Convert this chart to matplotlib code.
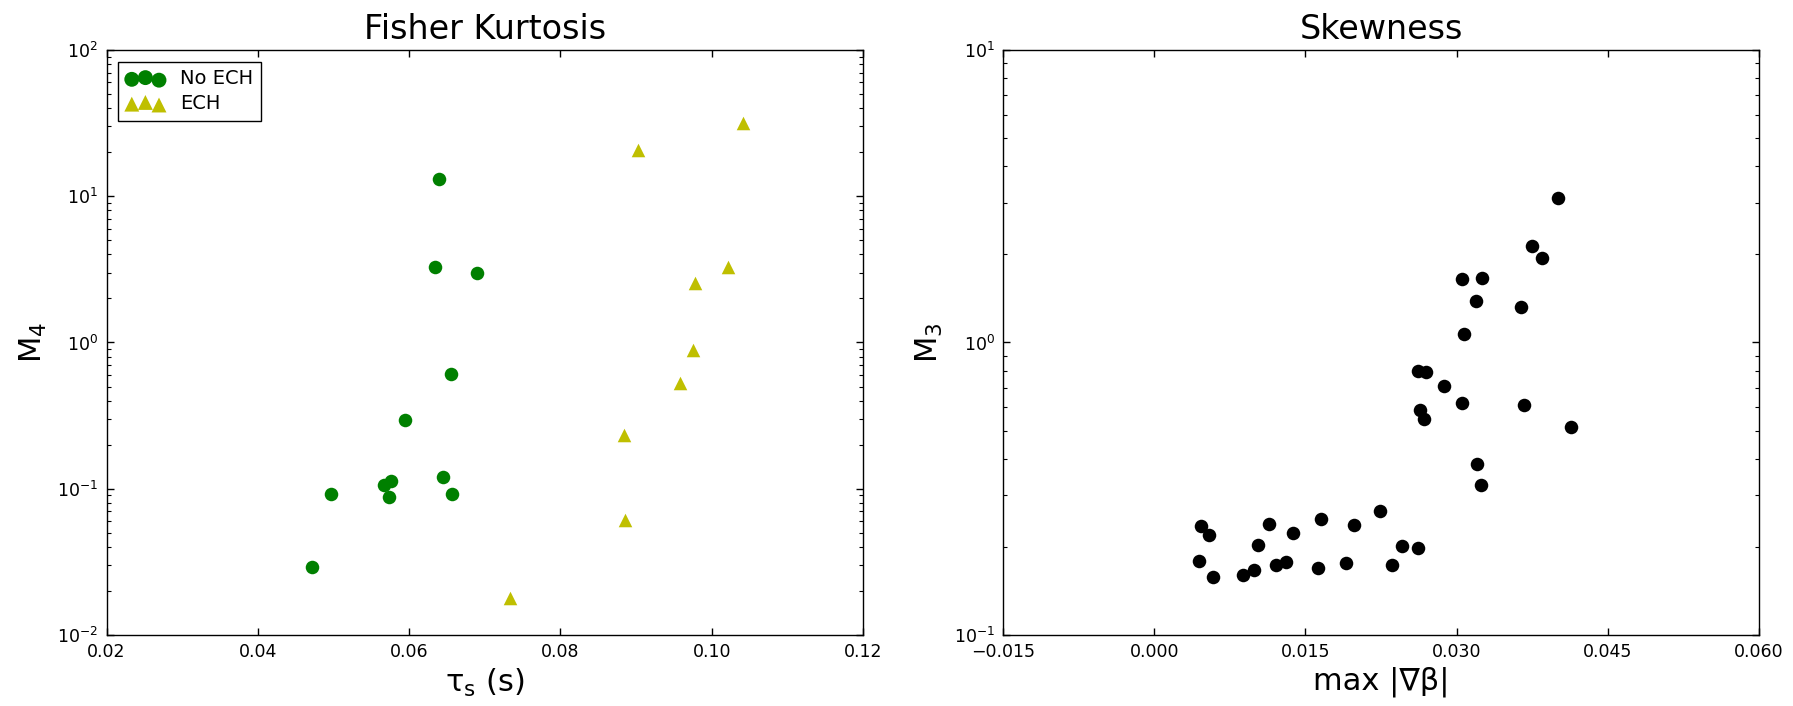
import numpy as np
from matplotlib import pyplot as plt

# Fisher kurtosis data
tau_no_ech = [0.0639, 0.0634, 0.0690, 0.0655, 0.0595, 0.0567, 0.0576, 0.0574, 0.0497, 0.0645, 0.0657, 0.0471]
m4_no_ech = [13.1, 3.27, 2.98, 0.608, 0.293, 0.106, 0.113, 0.0876, 0.0927, 0.121, 0.0927, 0.0293]
tau_ech = [0.1042, 0.0902, 0.1022, 0.0978, 0.0975, 0.0958, 0.0884, 0.0885, 0.0733]
m4_ech = [31.8, 20.7, 3.27, 2.57, 0.89, 0.531, 0.232, 0.0607, 0.0179]

# Skewness data
grad_beta = [0.0401, 0.03745, 0.03847, 0.0305, 0.03248, 0.03197, 0.03643, 0.03078, 0.0262,
             0.0270, 0.0288, 0.0305, 0.0367, 0.0264, 0.0268, 0.0414, 0.0320, 0.0324, 0.0224,
             0.01654, 0.01139, 0.00461, 0.01987, 0.0138, 0.00546, 0.01026, 0.02456, 0.02615,
             0.00444, 0.01303, 0.01207, 0.01902, 0.0236, 0.01626, 0.00993, 0.0088, 0.0058]
m3 = [3.11, 2.14, 1.94, 1.65, 1.66, 1.39, 1.32, 1.07, 0.80,
      0.794, 0.71, 0.622, 0.613, 0.588, 0.548, 0.516, 0.383, 0.325, 0.266,
      0.249, 0.240, 0.236, 0.237, 0.223, 0.219, 0.203, 0.201, 0.198,
      0.179, 0.177, 0.173, 0.176, 0.174, 0.169, 0.167, 0.160, 0.158]

kurt_xticks = [0.02, 0.04, 0.06, 0.08, 0.10, 0.12]
skew_xticks = [-0.015, 0.000, 0.015, 0.030, 0.045, 0.060]


def style_axes(ax):
	ax.tick_params(which='both', direction='in', top=True, right=True, labelsize=12.5, pad=6)
	ax.tick_params(which='major', length=5, width=1)
	ax.tick_params(which='minor', length=3, width=0.8)
	for s in ax.spines.values():
		s.set_linewidth(1.0)


fig = plt.figure(figsize=(17.93, 7.06), dpi=100)

ax1 = fig.add_axes([0.0594, 0.1006, 0.4219, 0.8286])
ax1.scatter(tau_no_ech, m4_no_ech, s=95, c='g', marker='o', linewidths=0, label='No ECH')
ax1.scatter(tau_ech, m4_ech, s=95, c='y', marker='^', linewidths=0, label='ECH')
ax1.set_yscale('log')
ax1.set_xlim(0.02, 0.12)
ax1.set_ylim(1e-2, 1e2)
ax1.set_xticks(kurt_xticks)
ax1.set_xticklabels(['%.2f' % t for t in kurt_xticks])
ax1.set_title('Fisher Kurtosis', fontsize=24, pad=8)
ax1.set_xlabel(r'$\mathrm{\tau_s}$ (s)', fontsize=22)
ax1.set_ylabel(r'M$_4$', fontsize=22, labelpad=6)
style_axes(ax1)
leg = ax1.legend(loc='upper left', scatterpoints=3, fontsize=14, fancybox=False,
	framealpha=1, edgecolor='black', borderaxespad=0.6, handletextpad=0.8,
	markerscale=1.1, labelspacing=0.3)
leg.get_frame().set_linewidth(1.0)

ax2 = fig.add_axes([0.5594, 0.1006, 0.4216, 0.8286])
ax2.scatter(grad_beta, m3, s=95, c='k', marker='o', linewidths=0)
ax2.set_yscale('log')
ax2.set_xlim(-0.015, 0.060)
ax2.set_ylim(1e-1, 1e1)
ax2.set_xticks(skew_xticks)
ax2.set_xticklabels([('%.3f' % t).replace('-', '\u2212') for t in skew_xticks])
ax2.set_title('Skewness', fontsize=24, pad=8)
ax2.set_xlabel('max |\u2207\u03b2|', fontsize=22)
ax2.set_ylabel(r'M$_3$', fontsize=22, labelpad=6)
style_axes(ax2)

plt.savefig('out.png', dpi=100)
